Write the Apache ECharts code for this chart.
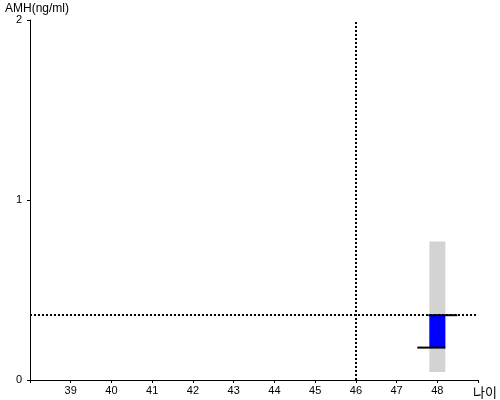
<!DOCTYPE html>
<html><head><meta charset="utf-8">
<script src="https://cdn.jsdelivr.net/npm/echarts@6/dist/echarts.min.js"></script>
<style>html,body{margin:0;padding:0;background:#fff}#c{width:500px;height:400px}</style>
</head><body><div id="c"></div>
<script>
const ages = [48];
const rangeLow = [0.045];
const rangeHigh = [0.77];
const valueLow = [0.18];
const valueHigh = [0.36];
const refAge = 46;
const refValue = 0.36;
const xMin = 38, xMax = 49;
const yTicks = [0, 1, 2];

const data = ages.map((a, i) => [a, rangeLow[i], rangeHigh[i], valueLow[i], valueHigh[i]]);
const chart = echarts.init(document.getElementById('c'), null, {renderer: 'canvas'});
const txt = {fontFamily: 'Liberation Sans, Arial, sans-serif', fontSize: 11, color: '#000'};
chart.setOption({
  animation: false,
  title: {text: 'AMH(ng/ml)', left: 5, top: 3, padding: 0, textStyle: {fontFamily: 'Liberation Sans, Arial, sans-serif', fontSize: 12, fontWeight: 'normal', color: '#000'}},
  grid: {left: 30, right: 20, top: 20, bottom: 20, containLabel: false},
  xAxis: {
    type: 'value', min: xMin, max: xMax, interval: 1,
    name: '나이', nameLocation: 'end', nameGap: -5,
    nameTextStyle: {fontFamily: 'Noto Sans CJK KR', fontSize: 13, color: '#000', verticalAlign: 'top', align: 'left', padding: [6, 0, 0, 0]},
    axisLine: {lineStyle: {color: '#000', width: 1}},
    axisTick: {length: 3, lineStyle: {color: '#000'}},
    axisLabel: Object.assign({margin: 5, formatter: v => (v === xMin || v === xMax) ? '' : String(v)}, txt),
    splitLine: {show: false}
  },
  yAxis: {
    type: 'value', min: 0, max: 2, interval: 1,
    axisLine: {show: true, lineStyle: {color: '#000', width: 1}},
    axisTick: {show: true, length: 3, lineStyle: {color: '#000'}},
    axisLabel: Object.assign({margin: 8, padding: [4, 0, 0, 0]}, txt),
    splitLine: {show: false}
  },
  series: [{
    type: 'custom',
    data: data,
    encode: {x: 0, y: [1, 2, 3, 4]},
    renderItem: function (params, api) {
      const x = api.value(0);
      const pLo = api.coord([x, api.value(1)]);
      const pHi = api.coord([x, api.value(2)]);
      const vLo = api.coord([x, api.value(3)]);
      const vHi = api.coord([x, api.value(4)]);
      const w = 16;
      const cx = pLo[0];
      return {type: 'group', children: [
        {type: 'rect', shape: {x: cx - w / 2, y: pHi[1], width: w, height: pLo[1] - pHi[1]}, style: {fill: '#d3d3d3'}},
        {type: 'rect', shape: {x: cx - w / 2, y: vHi[1], width: w, height: vLo[1] - vHi[1]}, style: {fill: '#0000ff'}},
        {type: 'line', shape: {x1: cx - 9, y1: vHi[1], x2: cx + 20, y2: vHi[1]}, style: {stroke: '#000', lineWidth: 2}},
        {type: 'line', shape: {x1: cx - 20, y1: vLo[1], x2: cx + 8, y2: vLo[1]}, style: {stroke: '#000', lineWidth: 2}}
      ]};
    },
    markLine: {
      silent: true, symbol: 'none', label: {show: false},
      lineStyle: {color: '#000', width: 2, type: [2, 2]},
      data: [{yAxis: refValue}, {xAxis: refAge}]
    },
    z: 2
  }]
});
</script></body></html>
